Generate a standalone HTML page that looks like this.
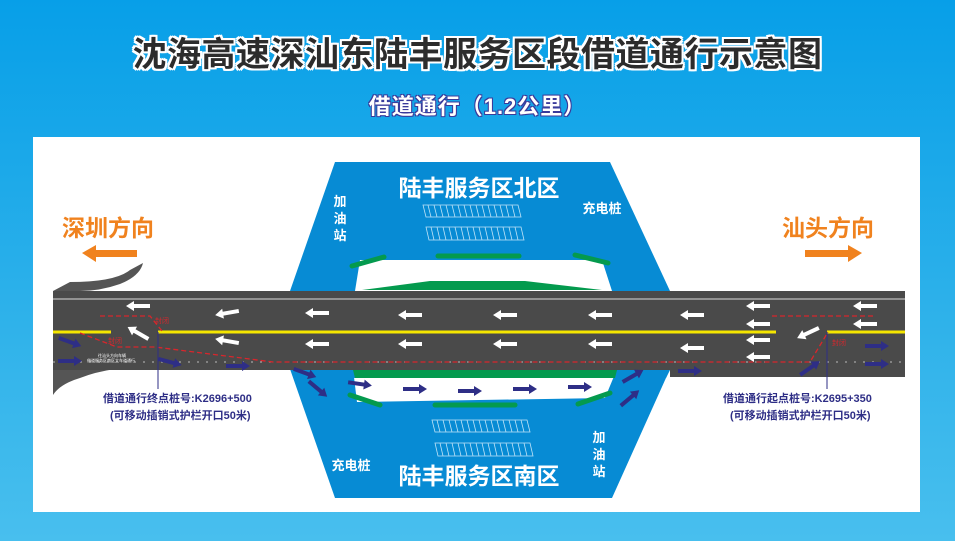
<!DOCTYPE html>
<html><head><meta charset="utf-8">
<style>
html,body{margin:0;padding:0}
body{width:955px;height:541px;overflow:hidden;background:linear-gradient(180deg,#079fe8 0%,#2fb2ea 60%,#48bfee 100%);font-family:"Liberation Sans","Noto Sans CJK SC",sans-serif;position:relative}
.t{position:absolute;left:0;width:955px;text-align:center;font-weight:bold}
</style></head><body>
<div class="t" style="top:27px;font-size:34px;color:#2c2c2c;letter-spacing:0.5px;text-shadow:-2px -2px 0 #fff,2px -2px 0 #fff,-2px 2px 0 #fff,2px 2px 0 #fff,0 2px 0 #fff,0 -2px 0 #fff,2px 0 0 #fff,-2px 0 0 #fff">沈海高速深汕东陆丰服务区段借道通行示意图</div>
<div class="t" style="top:89px;font-size:22px;color:#fff;letter-spacing:1px;text-shadow:-1px -1px 0 #3a3a9a,1px -1px 0 #3a3a9a,-1px 1px 0 #3a3a9a,1px 1px 0 #3a3a9a">借道通行（1.2公里）</div>
<svg width="955" height="541" style="position:absolute;left:0;top:0" font-family="Liberation Sans, Noto Sans CJK SC, sans-serif">
<defs>
<polygon id="wl" points="-12,0 -4,-5 -4,-2 12,-2 12,2 -4,2 -4,5" fill="#fff"/>
<polygon id="nr" points="12,0 4,-5 4,-2 -12,-2 -12,2 4,2 4,5" fill="#2e2e86"/>
</defs>
<rect x="33" y="137" width="887" height="375" fill="#fff"/>
<!-- north area -->
<polygon points="335,162 610,162 670,291 290,291" fill="#078bd4"/>
<polygon points="360,260 602,260 612,291 355,291" fill="#fff"/>
<polygon points="362,290 430,281 525,281 602,290" fill="#049a4e"/>
<g stroke="#049a4e" stroke-width="5" stroke-linecap="round">
<line x1="352" y1="266" x2="384" y2="257"/><line x1="438" y1="256" x2="519" y2="256"/><line x1="575" y1="255" x2="608" y2="263"/>
</g>
<!-- south area -->
<polygon points="290,369 670,369 612,498 335,498" fill="#078bd4"/>
<polygon points="353,369 617,369 605,398 357,402" fill="#fff"/>
<polygon points="353,369 430,378 525,378 617,369" fill="#049a4e"/>
<g stroke="#049a4e" stroke-width="5" stroke-linecap="round">
<line x1="350" y1="395" x2="380" y2="405"/><line x1="435" y1="405" x2="515" y2="405"/><line x1="578" y1="404" x2="610" y2="393"/>
</g>
<!-- parking -->
<g fill="none" stroke="#bfe3f7" stroke-width="0.8">
<path d="M423,205h95l3,12h-95z M426,227h95l3,13h-95z M432,420h95l3,12h-95z M435,443h95l3,13h-95z"/>
</g>
<g stroke="#bfe3f7" stroke-width="0.8">
<path d="M428,205l3,12M434,205l3,12M440,205l3,12M446,205l3,12M452,205l3,12M458,205l3,12M464,205l3,12M470,205l3,12M476,205l3,12M482,205l3,12M488,205l3,12M494,205l3,12M500,205l3,12M506,205l3,12M512,205l3,12"/>
<path d="M431,227l3,13M437,227l3,13M443,227l3,13M449,227l3,13M455,227l3,13M461,227l3,13M467,227l3,13M473,227l3,13M479,227l3,13M485,227l3,13M491,227l3,13M497,227l3,13M503,227l3,13M509,227l3,13M515,227l3,13"/>
<path d="M437,420l3,12M443,420l3,12M449,420l3,12M455,420l3,12M461,420l3,12M467,420l3,12M473,420l3,12M479,420l3,12M485,420l3,12M491,420l3,12M497,420l3,12M503,420l3,12M509,420l3,12M515,420l3,12M521,420l3,12"/>
<path d="M440,443l3,13M446,443l3,13M452,443l3,13M458,443l3,13M464,443l3,13M470,443l3,13M476,443l3,13M482,443l3,13M488,443l3,13M494,443l3,13M500,443l3,13M506,443l3,13M512,443l3,13M518,443l3,13M524,443l3,13"/>
</g>
<g fill="#fff" font-weight="bold">
<text x="479" y="196" font-size="23" text-anchor="middle">陆丰服务区北区</text>
<text x="479" y="484" font-size="23" text-anchor="middle">陆丰服务区南区</text>
<text x="602" y="213" font-size="13" text-anchor="middle">充电桩</text>
<text x="351" y="470" font-size="13" text-anchor="middle">充电桩</text>
<text x="340" y="206" font-size="13" text-anchor="middle">加</text><text x="340" y="223" font-size="13" text-anchor="middle">油</text><text x="340" y="240" font-size="13" text-anchor="middle">站</text>
<text x="599" y="442" font-size="13" text-anchor="middle">加</text><text x="599" y="459" font-size="13" text-anchor="middle">油</text><text x="599" y="476" font-size="13" text-anchor="middle">站</text>
</g>
<!-- ramps -->
<path d="M53,291 L70,282 Q115,282 130,270 L143,263 Q140,276 120,284 Q100,291 80,291Z" fill="#555"/>
<path d="M53,369 L53,395 Q60,384 80,378 Q95,372 115,369Z" fill="#555"/>
<!-- road -->
<rect x="53" y="291" width="852" height="79" fill="#4a4a4a"/>
<rect x="670" y="369" width="235" height="8" fill="#4a4a4a"/>
<line x1="53" y1="299" x2="905" y2="299" stroke="#aaa" stroke-width="1.5"/>
<line x1="53" y1="332" x2="111" y2="332" stroke="#f5e600" stroke-width="3"/>
<line x1="158" y1="332" x2="776" y2="332" stroke="#f5e600" stroke-width="3"/>
<line x1="827" y1="332" x2="905" y2="332" stroke="#f5e600" stroke-width="3"/>
<line x1="53" y1="362" x2="905" y2="362" stroke="#bbb" stroke-width="1" stroke-dasharray="2,7"/>
<!-- south area part over road bottom -->
<polygon points="294,370 670,370 666,378 298,378" fill="#078bd4"/>
<polygon points="353,370 617,370 615,378 355,378" fill="#049a4e"/>
<!-- red dashed -->
<g stroke="#d8262c" stroke-width="1.3" fill="none" stroke-dasharray="5,3">
<path d="M100,316 L150,316 L162,331"/>
<path d="M80,333 L117,347 L155,347 L273,362 L810,362 L828,332"/>
<path d="M772,316 L876,316"/>
</g>
<g fill="#d8262c" font-size="7"><text x="155" y="323">封闭</text><text x="108" y="343">封闭</text><text x="832" y="345">封闭</text></g>
<g fill="#fff" font-size="4"><text x="98" y="357">往汕头方向车辆</text><text x="87" y="362">借道服务区南区大车道通行</text></g>
<!-- white arrows -->
<g>
<use href="#wl" transform="translate(138,306)"/><use href="#wl" transform="translate(227,313) rotate(-10)"/><use href="#wl" transform="translate(317,313)"/>
<use href="#wl" transform="translate(138,333) rotate(30)"/><use href="#wl" transform="translate(227,341) rotate(10)"/><use href="#wl" transform="translate(317,344)"/>
<use href="#wl" transform="translate(410,315)"/><use href="#wl" transform="translate(505,315)"/><use href="#wl" transform="translate(600,315)"/>
<use href="#wl" transform="translate(410,344)"/><use href="#wl" transform="translate(505,344)"/><use href="#wl" transform="translate(600,344)"/>
<use href="#wl" transform="translate(692,315)"/><use href="#wl" transform="translate(692,348)"/>
<use href="#wl" transform="translate(758,306)"/><use href="#wl" transform="translate(758,324)"/><use href="#wl" transform="translate(758,340)"/><use href="#wl" transform="translate(758,357)"/>
<use href="#wl" transform="translate(808,333) rotate(-25)"/><use href="#wl" transform="translate(865,306)"/><use href="#wl" transform="translate(865,324)"/>
</g>
<!-- navy arrows -->
<g>
<use href="#nr" transform="translate(70,342) rotate(20)"/><use href="#nr" transform="translate(70,361)"/><use href="#nr" transform="translate(170,362) rotate(15)"/><use href="#nr" transform="translate(238,366)"/>
<use href="#nr" transform="translate(305,373) rotate(20)"/><use href="#nr" transform="translate(318,389) rotate(40)"/>
<use href="#nr" transform="translate(360,384) rotate(8)"/><use href="#nr" transform="translate(415,389)"/><use href="#nr" transform="translate(470,391)"/><use href="#nr" transform="translate(525,389)"/><use href="#nr" transform="translate(580,387)"/>
<use href="#nr" transform="translate(633,376) rotate(-30)"/><use href="#nr" transform="translate(630,398) rotate(-40)"/>
<use href="#nr" transform="translate(690,371)"/><use href="#nr" transform="translate(810,368) rotate(-35)"/>
<use href="#nr" transform="translate(877,346)"/><use href="#nr" transform="translate(877,364)"/>
</g>
<!-- directions -->
<g fill="#f0821e" font-weight="bold" font-size="23">
<text x="62" y="236">深圳方向</text><text x="782" y="236">汕头方向</text>
</g>
<polygon points="82,253 96,245 96,250 137,250 137,257 96,257 96,262" fill="#f0821e"/>
<polygon points="862,253 848,245 848,250 805,250 805,257 848,257 848,262" fill="#f0821e"/>
<!-- marker lines -->
<line x1="158" y1="332" x2="158" y2="389" stroke="#2e2e86" stroke-width="1"/>
<line x1="827" y1="332" x2="827" y2="389" stroke="#2e2e86" stroke-width="1"/>
<g fill="#2e2e86" font-weight="bold" font-size="11">
<text x="103" y="402">借道通行终点桩号:K2696+500</text>
<text x="110" y="419">(可移动插销式护栏开口50米)</text>
<text x="723" y="402">借道通行起点桩号:K2695+350</text>
<text x="730" y="419">(可移动插销式护栏开口50米)</text>
</g>
</svg>
</body></html>
